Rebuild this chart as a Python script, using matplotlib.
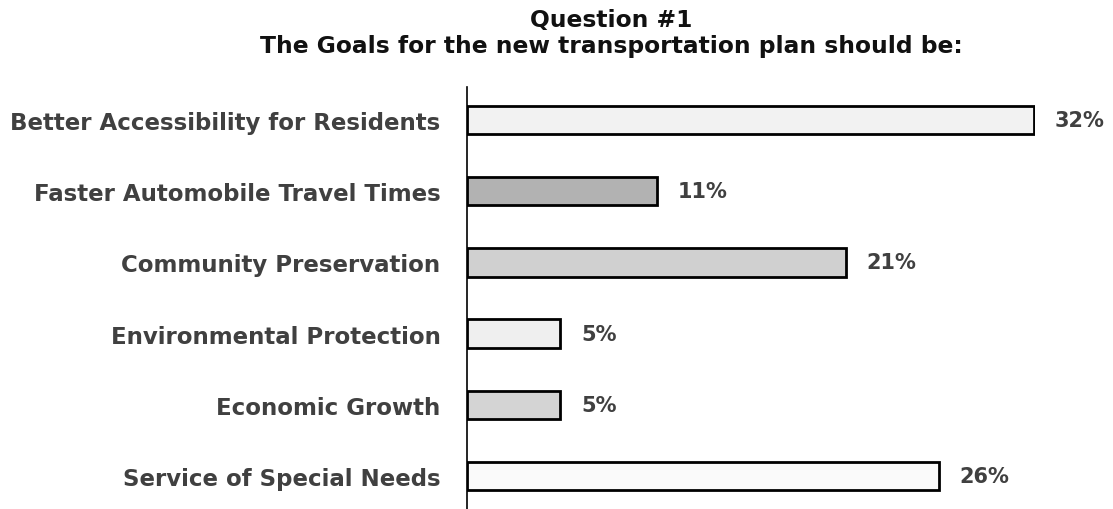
import matplotlib
matplotlib.use("Agg")
import matplotlib.pyplot as plt

categories = ["Better Accessibility for Residents", "Faster Automobile Travel Times",
              "Community Preservation", "Environmental Protection",
              "Economic Growth", "Service of Special Needs"]
values = [31.6, 10.6, 21.1, 5.2, 5.2, 26.3]
labels = ["32%", "11%", "21%", "5%", "5%", "26%"]
colors = ["#f2f2f2", "#b2b2b2", "#d0d0d0", "#efefef", "#d4d4d4", "#fafafa"]

W, H = 1113, 510
fig = plt.figure(figsize=(W / 100, H / 100), dpi=100)
ax_l, ax_r, ax_t, ax_b = 467, 1035, 88, 510
ax = fig.add_axes([ax_l / W, 1 - ax_b / H, (ax_r - ax_l) / W, (ax_b - ax_t) / H])

ypos = list(range(len(categories)))
ax.barh(ypos, values, height=0.4, color=colors, edgecolor="black", linewidth=2, zorder=2)
ax.set_xlim(0, 31.65)
ax.set_ylim(5.46, -0.46)

font = "DejaVu Sans"
for y, v, lab in zip(ypos, values, labels):
    ax.text(v + 1.15, y, lab, va="center", ha="left", fontsize=15, fontweight="bold",
            color="#404040", family=font, clip_on=False)

ax.set_yticks(ypos)
ax.set_yticklabels(categories, fontsize=16.5, fontweight="bold", color="#404040", family=font)
ax.tick_params(axis="y", length=0, pad=19)
ax.set_xticks([])
for s in ["top", "right", "bottom"]:
    ax.spines[s].set_visible(False)
ax.spines["left"].set_linewidth(1.2)
ax.spines["left"].set_color("black")

fig.text(611 / W, 1 - 20 / H, "Question #1", ha="center", va="center", fontsize=16.8,
         fontweight="bold", color="#111111", family=font)
fig.text(611 / W, 1 - 47 / H, "The Goals for the new transportation plan should be:", ha="center",
         va="center", fontsize=16.8, fontweight="bold", color="#111111", family=font)

fig.savefig("out.png", dpi=100)
